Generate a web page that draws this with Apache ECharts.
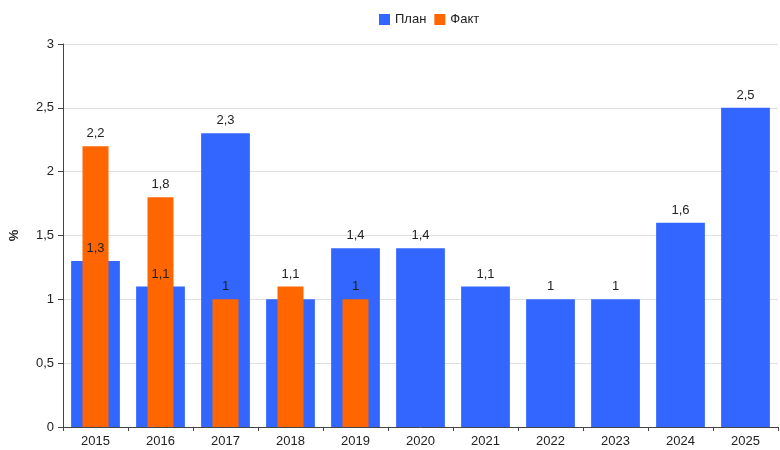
<!DOCTYPE html>
<html>
<head>
<meta charset="utf-8">
<script src="https://cdn.jsdelivr.net/npm/echarts@6/dist/echarts.min.js"></script>
<style>
    html, body { margin: 0; padding: 0; background: #fff; }
    #chart1 { width: 780px; height: 450px; }
</style>
</head>
<body>
<div id="chart1"></div>
<script>
    var years = ['2015', '2016', '2017', '2018', '2019', '2020', '2021', '2022', '2023', '2024', '2025'];
    var planData = [1.3, 1.1, 2.3, 1, 1.4, 1.4, 1.1, 1, 1, 1.6, 2.5];
    var factData = [2.2, 1.8, 1, 1.1, 1, null, null, null, null, null, null];
    var colors = ['#3366ff', '#ff6600'];

    function comma(v) {
        return String(v).replace('.', ',');
    }

    var chart1 = echarts.init(document.getElementById('chart1'));
    var font = '"Liberation Sans", Arial, sans-serif';

    var option = {
        color: colors,
        textStyle: {fontFamily: font},
        legend: {
            top: 8,
            left: 374,
            icon: 'rect',
            itemWidth: 11,
            itemHeight: 11,
            itemGap: 8,
            textStyle: {color: '#222', fontSize: 13, fontFamily: font},
            data: ['План', 'Факт']
        },
        grid: {left: 62, right: 2, top: 44, bottom: 23},
        xAxis: [
            {
                type: 'category',
                data: years,
                axisTick: {show: true, length: 4, lineStyle: {color: '#444'}},
                axisLine: {lineStyle: {color: '#444'}},
                axisLabel: {color: '#222', fontSize: 13, margin: 8, fontFamily: font}
            },
            {
                type: 'category',
                data: years,
                show: false
            }
        ],
        yAxis: {
            type: 'value',
            min: 0,
            max: 3,
            interval: 0.5,
            name: '%',
            nameLocation: 'middle',
            nameGap: 42,
            nameRotate: 90,
            nameTextStyle: {color: '#222', fontSize: 13, fontWeight: 'bold', fontFamily: font},
            axisLine: {show: true, lineStyle: {color: '#444'}},
            axisTick: {show: true, length: 5, lineStyle: {color: '#444'}},
            axisLabel: {color: '#222', fontSize: 13, margin: 9, fontFamily: font, formatter: comma},
            splitLine: {lineStyle: {color: '#e0e0e0'}}
        },
        series: [
            {
                name: 'План',
                type: 'bar',
                xAxisIndex: 0,
                barWidth: '75%',
                label: {
                    show: true, position: 'top', distance: 6, color: '#222', fontSize: 13,
                    fontFamily: font,
                    formatter: function (p) {
                        // hidden when it would collide with the Факт label
                        var f = factData[p.dataIndex];
                        if (f != null && Math.abs(f - p.value) < 0.15) return '';
                        return comma(p.value);
                    }
                },
                data: planData
            },
            {
                name: 'Факт',
                type: 'bar',
                xAxisIndex: 1,
                barWidth: '40%',
                label: {
                    show: true, position: 'top', distance: 6, color: '#222', fontSize: 13,
                    fontFamily: font, formatter: function (p) { return comma(p.value); }
                },
                data: factData
            }
        ]
    };

    chart1.setOption(option);
</script>
</body>
</html>
